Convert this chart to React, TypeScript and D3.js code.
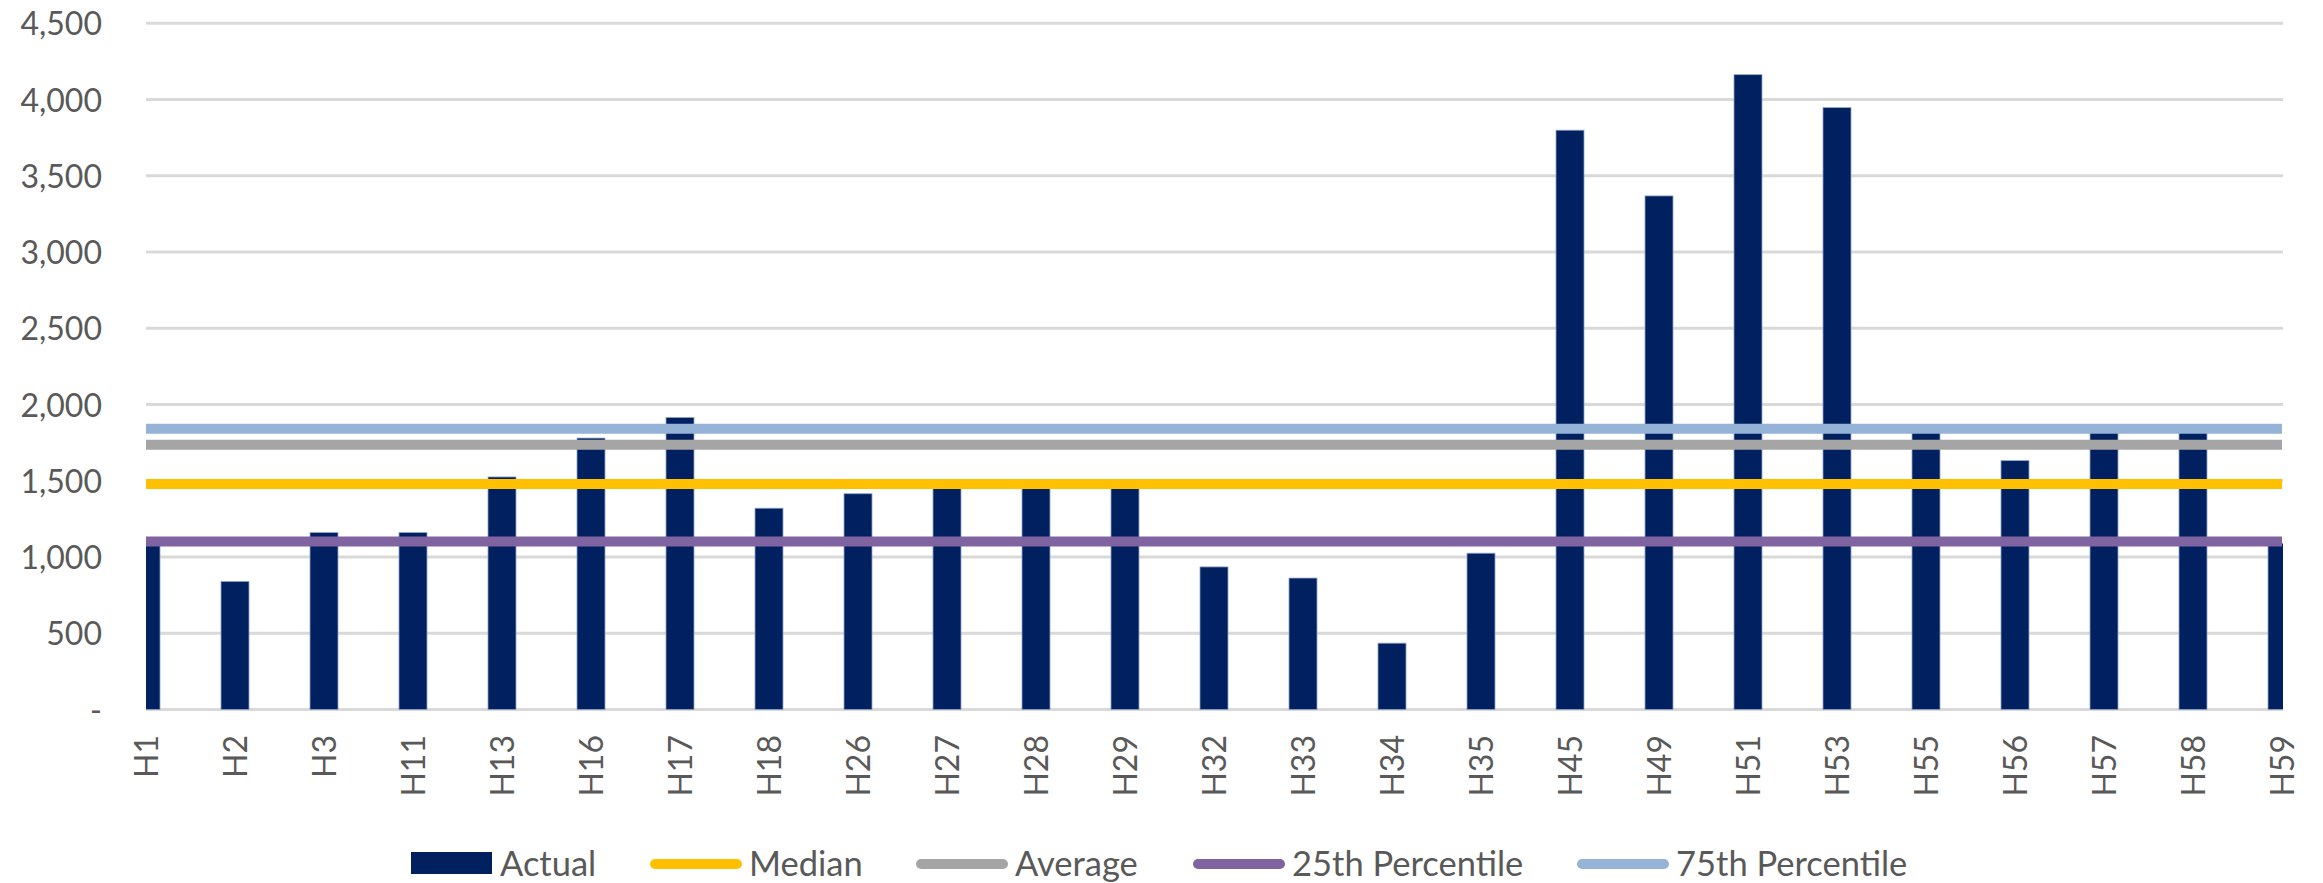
import React from "react";
import * as d3 from "d3";

const categories = ["H1","H2","H3","H11","H13","H16","H17","H18","H26","H27","H28","H29","H32","H33","H34","H35","H45","H49","H51","H53","H55","H56","H57","H58","H59"];
const actual = [1101,840,1160,1160,1525,1780,1915,1320,1415,1475,1480,1478,935,862,435,1025,3799,3368,4163,3947,1841,1632,1841,1841,1090];
const medianValue = 1479;
const averageValue = 1736;
const p25Value = 1101;
const p75Value = 1841;
const yTicks = [0,500,1000,1500,2000,2500,3000,3500,4000,4500];
const yTickLabels = ["-","500","1,000","1,500","2,000","2,500","3,000","3,500","4,000","4,500"];
const legendNames = ["Actual","Median","Average","25th Percentile","75th Percentile"];

const W = 2323, H = 883;
const FONT = "Lato, 'Open Sans', sans-serif";
const TEXT = "#595959";
const C_BAR = "#002060";
const C_MED = "#FFC000";
const C_AVG = "#A5A5A5";
const C_P25 = "#8064A2";
const C_P75 = "#95B3D7";

export default function App() {
  const left = 146, right = 2282, top = 23.3, bottom = 709.5;
  const x = d3.scalePoint<string>().domain(categories).range([left, right]);
  const y = d3.scaleLinear().domain([0, 4500]).range([bottom, top]);
  const barW = 28;
  const lineGen = d3.line<[string, number]>().x(d => x(d[0]) as number).y(d => y(d[1]));
  const refLines: [string, number][] = [
    [C_MED, medianValue],
    [C_AVG, averageValue],
    [C_P25, p25Value],
    [C_P75, p75Value],
  ];
  const legendColors = [C_BAR, C_MED, C_AVG, C_P25, C_P75];
  const legendX = [411, 650, 916, 1193, 1577];

  return (
    <svg width={W} height={H} style={{ position: "absolute", left: 0, top: 0, background: "#fff" }} fontFamily={FONT}>
      <defs>
        <clipPath id="plotclip">
          <rect x={left} y={0} width={right - left + 1} height={bottom + 2} />
        </clipPath>
      </defs>
      {yTicks.map((t, i) => (
        <g key={"g" + t}>
          <line x1={left} x2={right + 1} y1={y(t)} y2={y(t)} stroke="#D9D9D9" strokeWidth={3} />
          <text x={102} y={y(t) + 12} textAnchor="end" fontSize={32} fill={TEXT}>{yTickLabels[i]}</text>
        </g>
      ))}
      <g clipPath="url(#plotclip)">
        {categories.map((c, i) => (
          <rect key={"b" + c} x={(x(c) as number) - barW / 2} y={y(actual[i])} width={barW} height={y(0) - y(actual[i])} fill={C_BAR} stroke="#8FA3C8" strokeWidth={0.8} />
        ))}
      </g>
      {refLines.map(([col, v], i) => (
        <path key={"l" + i} d={lineGen(categories.map(c => [c, v] as [string, number])) || ""} stroke={col} strokeWidth={10} fill="none" />
      ))}
      {categories.map(c => (
        <text key={"x" + c} transform={`translate(${x(c)},735) rotate(-90)`} textAnchor="end" dy="0.36em" fontSize={32} fill={TEXT}>{c}</text>
      ))}
      {legendNames.map((n, i) => (
        <g key={"lg" + n}>
          {i === 0 ? (
            <rect x={legendX[i]} y={852} width={81} height={22} fill={legendColors[i]} />
          ) : (
            <line x1={legendX[i] + 5} x2={legendX[i] + 87} y1={864} y2={864} stroke={legendColors[i]} strokeWidth={10} strokeLinecap="round" />
          )}
          <text x={legendX[i] + (i === 0 ? 89 : 99)} y={876} fontSize={34.5} fill={TEXT}>{n}</text>
        </g>
      ))}
    </svg>
  );
}
